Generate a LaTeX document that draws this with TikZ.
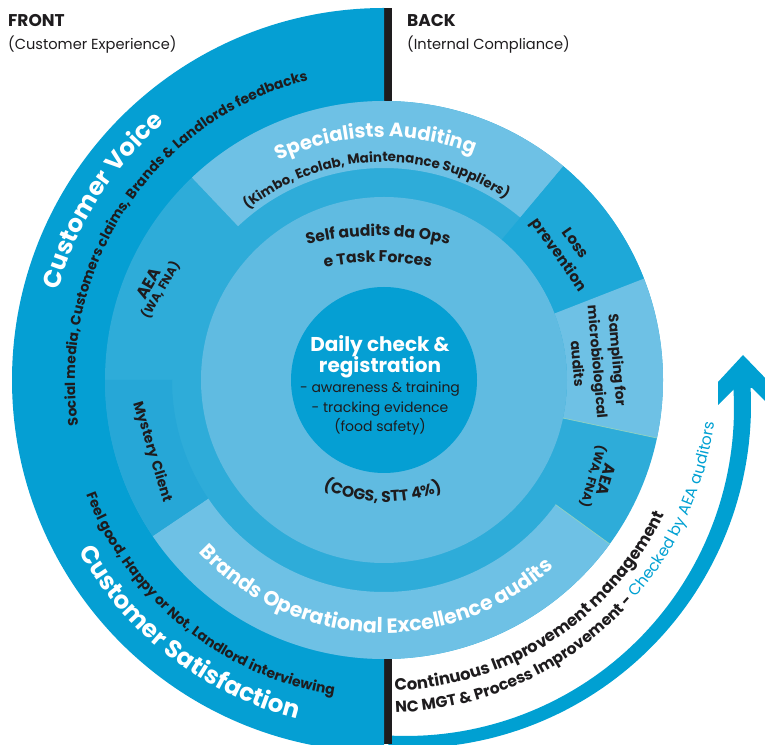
\documentclass[tikz,border=0pt]{standalone}
\usepackage{fontspec}
\setmainfont{Poppins}

\definecolor{ringdark}{RGB}{5,159,211}
\definecolor{ringmid}{RGB}{46,172,217}
\definecolor{losscol}{RGB}{30,168,216}
\definecolor{mystcol}{RGB}{38,167,215}
\definecolor{ringlight}{RGB}{110,193,229}
\definecolor{selfcol}{RGB}{96,187,225}
\definecolor{arrowcol}{RGB}{0,160,210}
\definecolor{ink}{RGB}{30,28,30}
\definecolor{seam}{RGB}{140,208,195}

\newcommand\fsz[1]{\fontsize{#1pt}{#1pt}\selectfont}
% annular sector: colour, start angle, end angle, inner radius, outer radius
\newcommand\ringpart[5]{%
  \fill[#1] (#2:#5pt) arc[start angle=#2,end angle=#3,radius=#5pt]
    -- (#3:#4pt) arc[start angle=#3,end angle=#2,radius=#4pt] -- cycle;}

% text set letter by letter along a circle
\ExplSyntaxOn
\dim_new:N \l_arc_total_dim
\dim_new:N \l_arc_pos_dim
\dim_new:N \l_arc_w_dim
\tl_new:N \l_arc_font_tl
\str_new:N \l_arc_text_str
\fp_new:N \l_arc_ang_fp
\tl_new:N \l_arc_x_tl
\tl_new:N \l_arc_y_tl
\tl_new:N \l_arc_rot_tl
\tl_new:N \arcend
\box_new:N \l_arc_char_box
\cs_new:Npx \pctchar { \c_percent_str }
\cs_new_protected:Npn \arc_measure:n #1
  {
    \hbox_set:Nn \l_arc_char_box
      { \pgfinterruptpicture \l_arc_font_tl \relax #1 \endpgfinterruptpicture }
  }
% #1,#2 centre; #3 radius; #4 reference angle; #5 +1 counter-clockwise, -1 clockwise;
% #6 share of the text before the reference angle; #7 font; #8 text
\cs_new_protected:Npn \arctext #1#2#3#4#5#6#7#8
  {
    \tl_set:Nn \l_arc_font_tl {#7}
    \str_set:Nx \l_arc_text_str {#8}
    \dim_zero:N \l_arc_total_dim
    \str_map_inline:Nn \l_arc_text_str
      {
        \arc_measure:n {##1}
        \dim_add:Nn \l_arc_total_dim { \box_wd:N \l_arc_char_box }
      }
    \dim_set:Nn \l_arc_pos_dim { - #6 \l_arc_total_dim }
    \str_map_inline:Nn \l_arc_text_str
      {
        \arc_measure:n {##1}
        \dim_set:Nn \l_arc_w_dim { \box_wd:N \l_arc_char_box }
        \fp_set:Nn \l_arc_ang_fp
          { #4 + (#5) * ( \dim_to_fp:n { \l_arc_pos_dim + 0.5 \l_arc_w_dim } ) / (#3) * 180 / pi }
        \tl_set:Nx \l_arc_x_tl { \fp_eval:n { round( #1 + (#3) * cosd(\l_arc_ang_fp), 3) } }
        \tl_set:Nx \l_arc_y_tl { \fp_eval:n { round( #2 + (#3) * sind(\l_arc_ang_fp), 3) } }
        \tl_set:Nx \l_arc_rot_tl { \fp_eval:n { round( \l_arc_ang_fp + (#5) * 90, 3) } }
        \node [ anchor=base, inner~sep=0pt, rotate=\l_arc_rot_tl ]
          at (\l_arc_x_tl, \l_arc_y_tl) { \l_arc_font_tl \relax ##1 };
        \dim_add:Nn \l_arc_pos_dim { \l_arc_w_dim }
      }
    \tl_gset:Nx \arcend
      { \fp_eval:n { round( #4 + (#5) * \dim_to_fp:n { \l_arc_pos_dim } / (#3) * 180 / pi, 3) } }
  }
\ExplSyntaxOff

\tikzset{
  seglabel/.style={text=ink,align=center,inner sep=0pt},
  headtext/.style={anchor=base west,text=ink,inner sep=0pt},
  disctext/.style={anchor=base,inner sep=0pt},
}

\begin{document}
\begin{tikzpicture}[x=1pt,y=1pt]
\useasboundingbox (0,0) rectangle (765,744);
\clip (0,0) rectangle (765,744);

% progress arrow around the back side
\fill[arrowcol] plot[domain=-93:4,samples=70] ({406+328*cos(\x)},{336+328*sin(\x)})
  -- plot[domain=4:-93,samples=70] ({406+(345+5*\x/93)*cos(\x)},{336+(345+5*\x/93)*sin(\x)}) -- cycle;
\fill[arrowcol] (743,389) -- (718,362) -- (718,339) -- (735,356) -- (752,356) -- (769,339) -- (769,362) -- cycle;

% front / back divider
\fill[ink] (384,0) rectangle (391.5,736);

\begin{scope}[shift={(384pt,364pt)}]
  % front half: customer experience band
  \fill[ringdark] (90:372pt) arc[start angle=90,end angle=270,radius=372pt] -- cycle;
  % audit ring
  \fill[ringmid] (0,0) circle[radius=279pt];
  \ringpart{ringlight}{50}{133.5}{212}{279}
  \ringpart{losscol}{21.3}{50}{183}{279}
  \ringpart{ringlight}{-12}{21.3}{183}{279}
  \ringpart{ringlight}{214}{324}{212}{279}
  \ringpart{mystcol}{180}{214}{212}{279}
  \draw[seam,line width=0.8pt] (-12:183pt) -- (-12:279pt) (-36:212pt) -- (-36:279pt);
  % self audits and daily check
  \fill[selfcol] (0,0) circle[radius=183pt];
  \fill[ringdark] (0,0) circle[radius=93pt];
\end{scope}

% texts on the front band
\arctext{384}{364}{338}{147.5}{-1}{0.5}{\fsz{24.5}\bfseries\color{white}}{Customer Voice}
\arctext{384}{364}{309}{146.3}{-1}{0.5}{\fsz{13.9}\bfseries\color{ink}}{Social media, Customers claims, Brands & Landlords feedbacks}
\arctext{384}{364}{350}{232.5}{1}{0.5}{\fsz{24.5}\bfseries\color{white}}{Customer Satisfaction}
\arctext{384}{364}{319}{231}{1}{0.5}{\fsz{14}\bfseries\color{ink}}{Feel good, Happy or Not, Landlord interviewing}

% texts on the audit ring
\arctext{384}{364}{243}{92}{-1}{0.5}{\fsz{19.6}\bfseries\color{white}}{Specialists Auditing}
\arctext{384}{364}{218}{92.3}{-1}{0.5}{\fsz{13.4}\bfseries\color{ink}}{(Kimbo, Ecolab, Maintenance Suppliers)}
\arctext{384}{364}{253}{267.6}{1}{0.5}{\fsz{20.5}\bfseries\color{white}}{Brands Operational Excellence audits}

% texts on the back side
\arctext{384}{364}{311}{-88}{1}{0}{\fsz{16.4}\bfseries\color{ink}}{Continuous Improvement management}
\arctext{384}{364}{333}{-88}{1}{0}{\fsz{15.6}\bfseries\color{ink}}{NC MGT & Process Improvement - }
\arctext{384}{364}{333}{\arcend}{1}{0}{\fsz{15.6}\mdseries\color{arrowcol}}{Checked by AEA auditors}

% texts in the self audits disc
\arctext{378}{216}{292}{90}{-1}{0.5}{\fsz{15.6}\bfseries\color{ink}}{Self audits da Ops}
\arctext{378}{216}{266}{90}{-1}{0.5}{\fsz{15.6}\bfseries\color{ink}}{e Task Forces}
\arctext{385}{388}{146}{269}{1}{0.5}{\fsz{15.5}\bfseries\color{ink}}{(COGS, STT 4\pctchar)}

% segment labels
\node[seglabel,rotate=-55,font=\fontsize{15pt}{20pt}\selectfont\bfseries] (loss) at (566,494) {Loss\\prevention};
\node[seglabel,rotate=-85,font=\fontsize{14pt}{20pt}\selectfont\bfseries] (sampling) at (598,382) {Sampling for\\microbiological\\audits};
\node[seglabel,rotate=-106,font=\bfseries] (aeaback) at (599,266) {\fontsize{16pt}{18pt}\selectfont AEA\\\fontsize{12pt}{14pt}\selectfont (WA, FNA)};
\node[seglabel,rotate=60,font=\bfseries] (aeafront) at (155,457) {\fontsize{16.5pt}{18pt}\selectfont AEA\\\fontsize{12pt}{14pt}\selectfont (WA, FNA)};
\node[seglabel,rotate=-73,font=\fsz{14}\bfseries] (mystery) at (152,292) {Mystery Client};

% daily check disc
\node[disctext,font=\fsz{20}\bfseries,text=white] (daily) at (380,392) {Daily check \&};
\node[disctext,font=\fsz{20}\bfseries,text=white] (registration) at (380,371) {registration};
\node[disctext,font=\fsz{14},text=ink] (awareness) at (380,351) {- awareness \& training};
\node[disctext,font=\fsz{14},text=ink] (tracking) at (380,331) {- tracking evidence};
\node[disctext,font=\fsz{14},text=ink] (foodsafety) at (380,312) {(food safety)};

% side headings
\node[headtext,font=\fsz{17}\bfseries] (front) at (8,717) {FRONT};
\node[headtext,font=\fsz{14.6}] (frontsub) at (8,694) {(Customer Experience)};
\node[headtext,font=\fsz{17}\bfseries] (back) at (407,717) {BACK};
\node[headtext,font=\fsz{14.6}] (backsub) at (407,694) {(Internal Compliance)};
\end{tikzpicture}
\end{document}
